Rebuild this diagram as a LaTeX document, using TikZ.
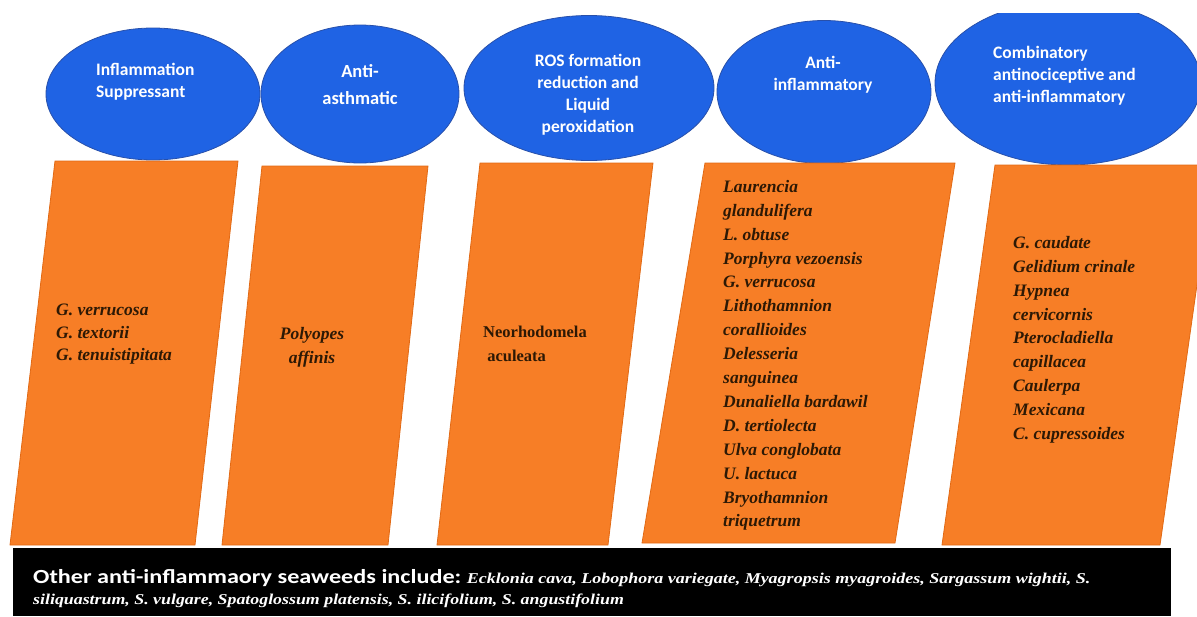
\documentclass[tikz,border=0pt]{standalone}
\usepackage{graphicx}
\usepackage{fontspec}
\setmainfont{Liberation Serif}
\newfontfamily\calib{Carlito}
\usetikzlibrary{shapes.geometric}
\definecolor{ellblue}{RGB}{31,99,228}
\definecolor{ellline}{RGB}{40,80,170}
\definecolor{boxorange}{RGB}{247,126,38}
\definecolor{boxline}{RGB}{225,105,20}
\definecolor{boxtext}{RGB}{45,25,5}
\tikzset{
  ell/.style={ellipse, fill=ellblue, draw=ellline, line width=0.8pt, inner sep=0pt},
  elltext/.style={text=white, font=\calib\bfseries\fontsize{17.5}{22}\selectfont, inner sep=0pt},
  pbox/.style={fill=boxorange, draw=boxline, line width=0.8pt},
  boxtxt/.style={text=boxtext, font=\bfseries\itshape\fontsize{17.5}{23.9}\selectfont, inner sep=0pt, align=left, anchor=north west},
  bartxt/.style={anchor=base west, inner sep=0pt, text=white},
}
\begin{document}
\begin{tikzpicture}[x=1pt,y=-1pt]
\useasboundingbox (0,0) rectangle (1197,616);
\begin{scope}
\clip (0,13) rectangle (1197,616);
% ellipses
\node[ell, minimum width=214pt, minimum height=132pt] (e1) at (153,94) {};
\node[ell, minimum width=198pt, minimum height=138pt] (e2) at (360,94) {};
\node[ell, minimum width=250pt, minimum height=145pt] (e3) at (589,88) {};
\node[ell, minimum width=214pt, minimum height=143pt] (e4) at (824,92) {};
\node[ell, minimum width=266pt, minimum height=164pt] (e5) at (1068,83) {};
% parallelogram boxes
\filldraw[pbox] (55,161) coordinate (b1a) -- (238,161) -- (195,545) -- (10,545) -- cycle;
\filldraw[pbox] (262,166) coordinate (b2a) -- (428,166) -- (388,545) -- (222,545) -- cycle;
\filldraw[pbox] (480,163) coordinate (b3a) -- (653,163) -- (608,545) -- (437,545) -- cycle;
\filldraw[pbox] (705,163) coordinate (b4a) -- (955,163) -- (895,543) -- (642,543) -- cycle;
\filldraw[pbox] (995,165) coordinate (b5a) -- (1214,165) -- (1160,545) -- (942,545) -- cycle;
\end{scope}
% ellipse labels
\node[elltext, align=left, anchor=north west] (t1) at (96,63) {Inflammation\\Suppressant};
\node[elltext, align=center, font=\calib\bfseries\fontsize{18.5}{27}\selectfont] (t2) at (360,85) {Anti-\\asthmatic};
\node[elltext, align=center] (t3) at (588,95) {ROS formation\\reduction and\\Liquid\\peroxidation};
\node[elltext, align=center] (t4) at (823,75) {Anti-\\inflammatory};
\node[elltext, align=left, anchor=north west] (t5) at (993,46) {Combinatory\\antinociceptive and\\anti-inflammatory};
% box labels
\node[boxtxt, font=\bfseries\itshape\fontsize{17.5}{22.5}\selectfont] (l1) at (56,304) {G. verrucosa\\G. textorii\\G. tenuistipitata};
\node[boxtxt, align=center, anchor=north] (l2) at (312,327) {Polyopes\\affinis};
\node[boxtxt, font=\bfseries\fontsize{16.5}{23.9}\selectfont] (l3) at (483,326) {Neorhodomela\\\ aculeata};
\node[boxtxt] (l4) at (723,180) {Laurencia\\glandulifera\\L. obtuse\\Porphyra vezoensis\\G. verrucosa\\Lithothamnion\\corallioides\\Delesseria\\sanguinea\\Dunaliella bardawil\\D. tertiolecta\\Ulva conglobata\\U. lactuca\\Bryothamnion\\triquetrum};
\node[boxtxt] (l5) at (1013,236) {G. caudate\\Gelidium crinale\\Hypnea\\cervicornis\\Pterocladiella\\capillacea\\Caulerpa\\Mexicana\\C. cupressoides};
% bottom bar
\fill[black] (13,548) coordinate (barNW) rectangle (1171,616) coordinate (barSE);
\node[bartxt, font=\calib\bfseries\fontsize{20}{24}\selectfont] (o1) at (33,583) {\scalebox{1.21}[1]{Other anti-inflammaory seaweeds include:}};
\node[bartxt, font=\bfseries\itshape\fontsize{15}{18}\selectfont] (o2) at ([xshift=5pt]o1.base east) {\scalebox{1.2}[1]{Ecklonia cava, Lobophora variegate, Myagropsis myagroides, Sargassum wightii, S.}};
\node[bartxt, font=\bfseries\itshape\fontsize{15}{18}\selectfont] (o3) at (33,604) {\scalebox{1.19}[1]{siliquastrum, S. vulgare, Spatoglossum platensis, S. ilicifolium, S. angustifolium}};
\end{tikzpicture}
\end{document}
